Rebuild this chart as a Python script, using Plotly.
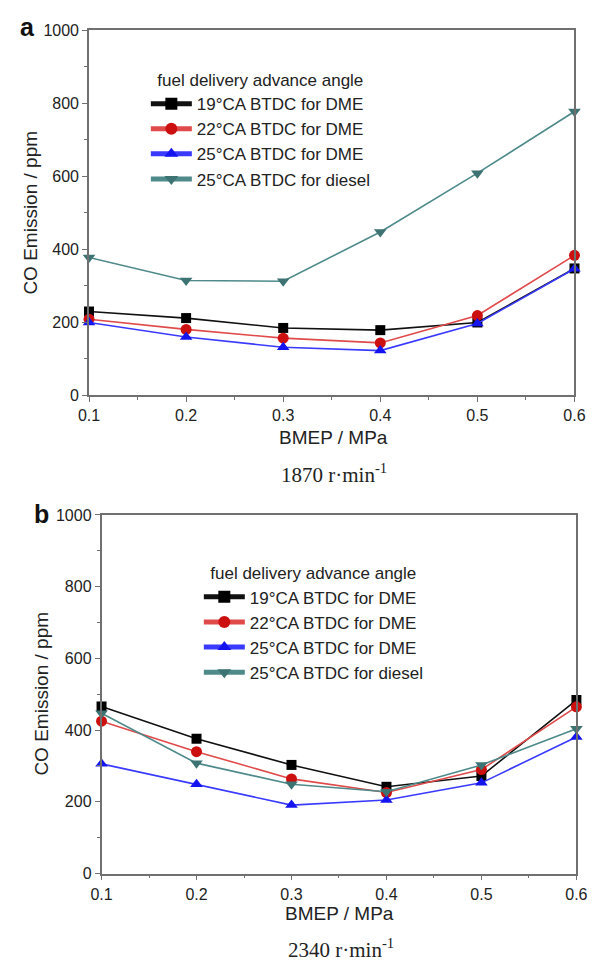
import plotly.graph_objects as go

# BMEP load points (MPa)
bmep = [0.1, 0.2, 0.3, 0.4, 0.5, 0.6]

# CO emission (ppm) at 1870 r/min
co_1870_19_dme = [229, 211, 184, 178, 199, 347]
co_1870_22_dme = [208, 180, 156, 143, 218, 383]
co_1870_25_dme = [199, 159, 131, 122, 196, 346]
co_1870_25_diesel = [377, 314, 312, 447, 608, 777]

# CO emission (ppm) at 2340 r/min
co_2340_19_dme = [466, 376, 303, 242, 272, 484]
co_2340_22_dme = [425, 340, 264, 226, 290, 465]
co_2340_25_dme = [306, 249, 191, 205, 253, 381]
co_2340_25_diesel = [447, 308, 249, 228, 303, 404]

series_names = [
    "19°CA BTDC for DME",
    "22°CA BTDC for DME",
    "25°CA BTDC for DME",
    "25°CA BTDC for diesel",
]
x_ticks = [0.1, 0.2, 0.3, 0.4, 0.5, 0.6]
x_tick_text = ["0.1", "0.2", "0.3", "0.4", "0.5", "0.6"]
y_ticks = [0, 200, 400, 600, 800, 1000]

W, H = 598, 971
SANS = "Liberation Sans, Arial, sans-serif"
SERIF = "Liberation Serif, Times New Roman, serif"

styles = [
    dict(line_color="#111111", marker_color="#000000", symbol="square", size=10),
    dict(line_color="#e04a4a", marker_color="#cc1010", symbol="circle", size=11),
    dict(line_color="#3a3aff", marker_color="#1414f0", symbol="triangle-up", size=11),
    dict(line_color="#4f8a8a", marker_color="#3d7373", symbol="triangle-down", size=11),
]

panels = [
    dict(data=[co_1870_19_dme, co_1870_22_dme, co_1870_25_dme, co_1870_25_diesel],
         xa="x", ya="y", legend="legend"),
    dict(data=[co_2340_19_dme, co_2340_22_dme, co_2340_25_dme, co_2340_25_diesel],
         xa="x2", ya="y2", legend="legend2"),
]

fig = go.Figure()
for p in panels:
    for name, vals, st in zip(series_names, p["data"], styles):
        fig.add_trace(go.Scatter(
            x=bmep, y=vals, name=name, mode="lines+markers",
            xaxis=p["xa"], yaxis=p["ya"], legend=p["legend"],
            cliponaxis=False,
            line=dict(color=st["line_color"], width=1.6),
            marker=dict(color=st["marker_color"], symbol=st["symbol"], size=st["size"],
                        line=dict(width=0)),
        ))


def px_x(v):
    return v / W


def px_y(v):
    return 1 - v / H


axis_common = dict(
    showline=True, mirror=True, linecolor="#707070", linewidth=1.6,
    ticks="outside", ticklen=5, tickwidth=1.2, tickcolor="#707070",
    showgrid=False, zeroline=False,
    tickfont=dict(family=SANS, size=16, color="#222222"),
)

xaxis_common = dict(
    axis_common, range=[0.1, 0.6], tickvals=x_ticks, ticktext=x_tick_text,
    minor=dict(dtick=0.05, tick0=0.1, ticklen=3, ticks="outside", tickcolor="#707070"),
)
yaxis_common = dict(
    axis_common, range=[0, 1000], tickvals=y_ticks,
    minor=dict(dtick=100, tick0=0, ticklen=3, ticks="outside", tickcolor="#707070"),
)

legend_common = dict(
    font=dict(family=SANS, size=17, color="#222222"),
    bgcolor="rgba(0,0,0,0)", borderwidth=0,
    xanchor="left", yanchor="top", tracegroupgap=0, itemsizing="constant",
    itemwidth=41,
    title=dict(text="  fuel delivery advance angle",
               font=dict(family=SANS, size=17, color="#222222")),
)

fig.update_layout(
    width=W, height=H, margin=dict(l=0, r=0, t=0, b=0),
    paper_bgcolor="white", plot_bgcolor="white",
    showlegend=True,
    xaxis=dict(xaxis_common, domain=[px_x(81), px_x(585)], anchor="y"),
    yaxis=dict(yaxis_common, domain=[px_y(394), px_y(22.5)], anchor="x"),
    xaxis2=dict(xaxis_common, domain=[px_x(94), px_x(587)], anchor="y2"),
    yaxis2=dict(yaxis_common, domain=[px_y(881), px_y(516)], anchor="x2"),
    legend=dict(legend_common, x=px_x(140), y=px_y(57)),
    legend2=dict(legend_common, x=px_x(195), y=px_y(559)),
)

annotations = [
    # panel letters
    dict(text="<b>a</b>", x=px_x(17), y=px_y(19), font=dict(family=SANS, size=25, color="#111")),
    dict(text="<b>b</b>", x=px_x(32), y=px_y(515), font=dict(family=SANS, size=25, color="#111")),
    # axis titles
    dict(text="CO Emission / ppm", x=px_x(20), y=px_y(208), textangle=-90,
         font=dict(family=SANS, size=19, color="#222")),
    dict(text="CO Emission / ppm", x=px_x(32), y=px_y(698), textangle=-90,
         font=dict(family=SANS, size=19, color="#222")),
    dict(text="BMEP / MPa", x=px_x(335), y=px_y(437),
         font=dict(family=SANS, size=19, color="#222")),
    dict(text="BMEP / MPa", x=px_x(341), y=px_y(922),
         font=dict(family=SANS, size=19, color="#222")),
    # engine speed captions
    dict(text="1870 r·min<sup>-1</sup>", x=px_x(335), y=px_y(474),
         font=dict(family=SERIF, size=21, color="#222")),
    dict(text="2340 r·min<sup>-1</sup>", x=px_x(343), y=px_y(957),
         font=dict(family=SERIF, size=21, color="#222")),
]
for a in annotations:
    a.update(xref="paper", yref="paper", showarrow=False, xanchor="center", yanchor="middle")
fig.update_layout(annotations=annotations)

fig.write_html("out.html")
